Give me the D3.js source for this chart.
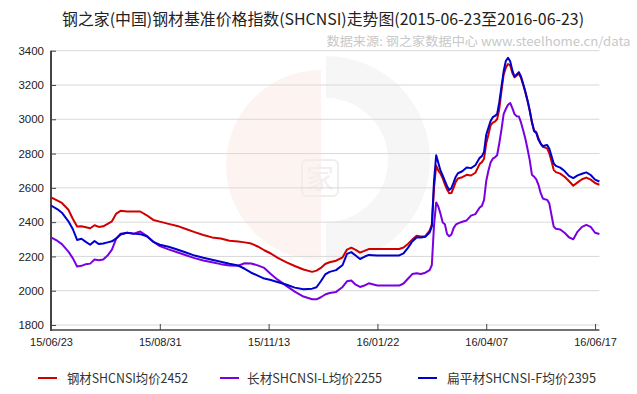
<!DOCTYPE html>
<html><head><meta charset="utf-8">
<script src="https://cdn.jsdelivr.net/npm/d3@7"></script>
<style>body{margin:0;background:#fff}svg{display:block}</style>
</head><body><svg id="c" width="637" height="394"></svg>
<script>
// trading-day index of each sample (0 = 2015-06-23)
const dayIndex = [0,3,5,8,10,12,14,16,18,20,22,24,26,28,30,32,35,38,41,44,47,50,
 54,58,62,66,70,74,78,82,86,89,92,95,98,101,104,108,112,116,120,122,124,126,128,131,134,136,138,140,142,144,146,
 150,156,160,162,164,166,168,170,172,174,175,
 176,177,178,179,180,181,182,183,184,185,186,187,189,191,193,195,197,198,199,
 200,201,202,203,204,205,206,207,208,209,210,211,212,213,214,215,216,217,218,219,220,221,222,223,224,225,226,227,228,229,230,231,232,
 234,236,238,240,242,244,246,248,250,252];
const steel = [2545,2525,2512,2472,2420,2374,2376,2370,2364,2382,2372,2376,2390,2405,2450,2466,2462,2462,2462,2440,2413,2403,
 2390,2378,2360,2342,2325,2311,2305,2291,2287,2282,2275,2258,2236,2217,2193,2167,2144,2124,2110,2117,2133,2156,2166,2175,2195,2240,2251,2238,2222,2232,2243,
 2243,2243,2243,2252,2273,2298,2320,2316,2318,2350,2385,
 2600,2730,2700,2682,2655,2620,2590,2568,2570,2600,2635,2655,2662,2676,2672,2688,2740,2750,2770,
 2860,2910,2965,2980,2987,3000,3060,3165,3260,3300,3322,3315,3270,3245,3255,3268,3240,3200,3155,3105,3050,2980,2935,2925,2890,2858,2840,2835,2830,2800,2755,2705,2692,
 2683,2665,2640,2612,2632,2650,2660,2648,2628,2618];
const longSteel = [2311,2290,2272,2228,2190,2141,2145,2155,2158,2182,2178,2182,2205,2240,2305,2332,2338,2332,2345,2320,2286,2260,
 2241,2224,2207,2190,2176,2166,2155,2147,2146,2160,2159,2148,2133,2098,2066,2030,1995,1966,1950,1950,1962,1978,1987,1993,2022,2055,2060,2035,2022,2030,2043,
 2030,2030,2030,2042,2070,2097,2102,2098,2105,2120,2150,
 2380,2515,2490,2448,2398,2388,2330,2318,2328,2365,2385,2393,2402,2410,2438,2447,2485,2495,2530,
 2640,2700,2748,2770,2778,2790,2860,2940,3030,3060,3085,3095,3065,3030,3018,3016,2980,2935,2885,2825,2760,2676,2665,2650,2618,2570,2538,2533,2530,2508,2440,2374,2362,
 2357,2338,2312,2300,2345,2372,2384,2372,2338,2331];
const flatSteel = [2497,2475,2455,2405,2360,2296,2303,2285,2268,2290,2272,2275,2282,2288,2305,2328,2338,2333,2330,2318,2285,2268,
 2256,2240,2223,2205,2192,2181,2169,2157,2147,2128,2105,2088,2071,2062,2051,2036,2018,2008,2012,2020,2055,2095,2110,2120,2150,2215,2225,2205,2185,2198,2209,
 2205,2205,2206,2218,2250,2287,2310,2310,2315,2340,2375,
 2640,2790,2745,2700,2672,2640,2610,2588,2598,2630,2665,2685,2697,2719,2715,2732,2775,2785,2810,
 2910,2950,2990,3012,3020,3030,3100,3190,3280,3340,3358,3338,3285,3248,3262,3275,3248,3205,3160,3110,3050,2985,2930,2920,2880,2858,2843,2847,2850,2828,2785,2742,2728,
 2718,2698,2670,2657,2673,2682,2690,2675,2648,2637];
const tickIndex = [0,50,100,150,200,250];
const tickLabels = ["15/06/23","15/08/31","15/11/13","16/01/22","16/04/07","16/06/17"];
const yTicks = [1800,2000,2200,2400,2600,2800,3000,3200,3400];
const seriesNames = ["钢材SHCNSI均价2452","长材SHCNSI-L均价2255","扁平材SHCNSI-F均价2395"];
const titleText = "钢之家(中国)钢材基准价格指数(SHCNSI)走势图(2015-06-23至2016-06-23)";
const sourceText = "数据来源: 钢之家数据中心 www.steelhome.cn/data";

const svg = d3.select("#c");
const cjk = "'Noto Sans CJK SC','Noto Sans',sans-serif";
const x = d3.scaleLinear().domain([0, 252]).range([51, 599.4]);
const y = d3.scaleLinear().domain([1800, 3400]).range([325, 50.7]);
const axisY = 330;

// faint watermark
const wm = svg.append("g");
wm.append("path").attr("d", d3.arc()({innerRadius:0, outerRadius:95, startAngle:Math.PI, endAngle:2*Math.PI}))
  .attr("transform","translate(321,165)").attr("fill","#fdf4f2");
wm.append("path").attr("d", d3.arc()({innerRadius:62, outerRadius:104, startAngle:0, endAngle:Math.PI}))
  .attr("transform","translate(326,160)").attr("fill","#f6f6f6");
wm.append("rect").attr("x",302).attr("y",160).attr("width",36).attr("height",36).attr("rx",5)
  .attr("fill","none").attr("stroke","#f3ecec").attr("stroke-width",2);
wm.append("text").attr("x",320).attr("y",189).attr("text-anchor","middle").attr("font-family",cjk)
  .attr("font-size",28).attr("fill","#f4eded").text("家");

// gridlines
svg.append("g").selectAll("line").data(yTicks).join("line")
  .attr("x1", 51).attr("x2", 599.4).attr("y1", d=>y(d)).attr("y2", d=>y(d))
  .attr("stroke", "#d9d9d9").attr("stroke-width", 1);

// y axis
const gy = svg.append("g").attr("transform","translate(51,0)")
  .call(d3.axisLeft(y).tickValues(yTicks).tickFormat(d3.format("d")).tickSizeInner(-5).tickSizeOuter(0).tickPadding(7));
gy.select(".domain").remove();
gy.selectAll("line").attr("stroke","#444");
gy.selectAll("text").attr("font-family","'Liberation Sans',Arial,sans-serif").attr("font-size",11.5).attr("fill","#222");

// x axis
const gx = svg.append("g").attr("transform",`translate(0,${axisY})`)
  .call(d3.axisBottom(x).tickValues(tickIndex).tickFormat((d,i)=>tickLabels[i]).tickSizeInner(-6).tickSizeOuter(0).tickPadding(8));
gx.select(".domain").remove();
gx.selectAll("line").attr("stroke","#444");
gx.selectAll("text").attr("font-family","'Liberation Sans',Arial,sans-serif").attr("font-size",11).attr("fill","#222");

svg.append("line").attr("x1",50).attr("x2",599.4).attr("y1",axisY).attr("y2",axisY).attr("stroke","#444").attr("stroke-width",1.5);
svg.append("line").attr("x1",51).attr("x2",51).attr("y1",y(3400)).attr("y2",axisY+0.75).attr("stroke","#444").attr("stroke-width",2);

// series
const colors = ["#d00000","#7a00e0","#0000cc"];
const data = [steel, longSteel, flatSteel];
const line = d3.line().x((d,i)=>x(dayIndex[i])).y(d=>y(d));
[0,1,2].forEach(k=>{
  svg.append("path").attr("d", line(data[k])).attr("fill","none")
    .attr("stroke", colors[k]).attr("stroke-width", 2).attr("stroke-linejoin","round");
});

// title & source
svg.append("text").attr("x",62).attr("y",25).attr("font-family",cjk).attr("font-size",16)
  .attr("fill","#222").attr("textLength",522).attr("lengthAdjust","spacingAndGlyphs").text(titleText);
svg.append("text").attr("x",326.5).attr("y",46).attr("font-family",cjk).attr("font-size",12.5)
  .attr("fill","#c8c8c8").attr("textLength",304).attr("lengthAdjust","spacingAndGlyphs").text(sourceText);

// legend
const legX = [38, 220, 418];
const legTextX = [67, 247, 447];
const legW = [121, 135, 149];
const lg = svg.append("g");
seriesNames.forEach((n,k)=>{
  lg.append("line").attr("x1",legX[k]).attr("x2",legX[k]+19).attr("y1",378).attr("y2",378)
    .attr("stroke",colors[k]).attr("stroke-width",2);
  lg.append("text").attr("x",legTextX[k]).attr("y",382.5).attr("font-family",cjk).attr("font-size",13)
    .attr("fill","#333").attr("textLength",legW[k]).attr("lengthAdjust","spacingAndGlyphs").text(n);
});
</script></body></html>
